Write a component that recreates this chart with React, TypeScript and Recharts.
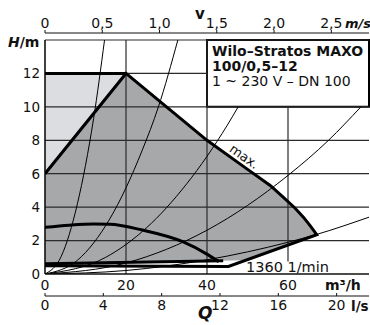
import {
  Area,
  ComposedChart,
  Line,
  ReferenceArea,
  ReferenceLine,
  XAxis,
  YAxis,
} from "recharts";

const FONT = "'DejaVu Sans', sans-serif";
const INK = "#111";

// axes: Q in m³/h, H in m
const flowTicks = [0, 20, 40, 60];
const headTicks = [0, 2, 4, 6, 8, 10, 12];
const speedTicks = [0, 0.5, 1, 1.5, 2, 2.5];
const litreTicks = [0, 4, 8, 12, 16, 20];

// dark operating range
const bandQ = [0, 20, 30, 40, 49.5, 55.6, 58.8, 61.7, 63.8, 65.6, 67.1];
const bandTop = [6, 12, 10, 8.0, 6.35, 5.3, 4.6, 3.95, 3.4, 2.85, 2.35];
const bandBottom = [0.62, 0.7, 0.74, 0.78, 0.83, 1.36, 1.64, 1.9, 2.08, 2.24, 2.35];

// light corner top-left
const wedgeQ = [0, 20];
const wedgeLow = [6, 12];
const wedgeHigh = [12, 12];

// thick outline: max curve + lower limit
const outlineQ = [0, 20, 30, 40, 49.5, 55.6, 58.8, 61.7, 63.8, 65.6, 67.1, 45.3, 0];
const outlineH = [6, 12, 10, 8.0, 6.35, 5.3, 4.6, 3.95, 3.4, 2.85, 2.35, 0.45, 0.5];
const capQ = [0, 20];
const capH = [12, 12];
const minQ = [0, 44];
const minH = [0.62, 0.8];
const midQ = [0, 6, 12, 16, 24, 34, 40.4, 42.9];
const midH = [2.79, 2.92, 2.99, 2.98, 2.63, 1.93, 1.13, 0.74];

// system curves (thin)
const sys1Q = [0, 4, 8, 10, 12, 14.7];
const sys1H = [0, 1.05, 4.2, 6.5, 9.3, 14];
const sys2Q = [0, 8, 16, 24, 28, 32.8];
const sys2H = [0, 0.82, 3.3, 7.4, 10, 14];
const sys3Q = [0, 15, 25, 35, 45, 47.7];
const sys3H = [0, 1.0, 2.75, 5.4, 8.9, 10];
const sys4Q = [0, 20, 40, 60, 70, 78];
const sys4H = [0, 0.66, 2.62, 5.9, 8.0, 10];
const sys5Q = [0, 20, 40, 60, 67.1, 80];
const sys5H = [0, 0.21, 0.85, 1.9, 2.37, 3.4];

const pts = (qs: number[], hs: number[]) => qs.map((q, i) => ({ q, h: hs[i] }));
const band = bandQ.map((q, i) => ({ q, r: [bandBottom[i], bandTop[i]] }));
const wedge = wedgeQ.map((q, i) => ({ q, r: [wedgeLow[i], wedgeHigh[i]] }));
const systems = [
  pts(sys1Q, sys1H),
  pts(sys2Q, sys2H),
  pts(sys3Q, sys3H),
  pts(sys4Q, sys4H),
  pts(sys5Q, sys5H),
];
// anchors so the secondary axes get drawn
const speedAnchor = speedTicks.map((v) => ({ v, h: 0 }));
const litreAnchor = litreTicks.map((l) => ({ l, h: 0 }));

const comma = (v: number) => (v === 0 ? "0" : v.toFixed(1).replace(".", ","));

function TitleBox(props: any) {
  const { x, y } = props.viewBox;
  return (
    <g fontFamily={FONT} fill={INK}>
      <text x={x + 5} y={y + 16} fontSize={14} fontWeight="bold">
        Wilo–Stratos MAXO
      </text>
      <text x={x + 5} y={y + 30.5} fontSize={14} fontWeight="bold">
        100/0,5–12
      </text>
      <text x={x + 5} y={y + 46} fontSize={14}>
        1 ~ 230 V – DN 100
      </text>
    </g>
  );
}

const grid = "#2a2a2a";

export default function App() {
  return (
    <div style={{ position: "absolute", left: 0, top: 0, background: "#fff" }}>
      <ComposedChart width={370} height={325} margin={{ top: 0, right: 1, bottom: 0, left: 5 }}>
        <XAxis
          xAxisId="v"
          dataKey="v"
          orientation="top"
          type="number"
          domain={[0, 2.829]}
          allowDataOverflow
          ticks={speedTicks}
          tickFormatter={comma}
          height={33}
          tickSize={3}
          tickMargin={2}
          stroke={INK}
          tick={{ fontSize: 14, fill: INK, fontFamily: FONT }}
        />
        <XAxis
          dataKey="q"
          type="number"
          domain={[0, 80]}
          allowDataOverflow
          ticks={flowTicks}
          height={22}
          tickLine={false}
          tickSize={2}
          tickMargin={4}
          stroke={INK}
          strokeWidth={1.5}
          tick={{ fontSize: 14, fill: INK, fontFamily: FONT }}
        />
        <XAxis
          xAxisId="ls"
          dataKey="l"
          type="number"
          domain={[0, 22.22]}
          allowDataOverflow
          ticks={litreTicks}
          height={29}
          tickSize={-3}
          tickMargin={7}
          stroke={INK}
          tick={{ fontSize: 14, fill: INK, fontFamily: FONT }}
        />
        <YAxis
          type="number"
          domain={[0, 14.42]}
          allowDataOverflow
          ticks={headTicks}
          width={40}
          axisLine={false}
          tickLine={false}
          tickSize={2}
          tickMargin={3}
          tick={{ fontSize: 13.5, fill: INK, fontFamily: FONT }}
        />

        <Area data={wedge} dataKey="r" type="linear" fill="#dcdde0" fillOpacity={1} stroke="none" isAnimationActive={false} />
        <Area data={band} dataKey="r" type="linear" fill="#a6a8aa" fillOpacity={1} stroke="none" isAnimationActive={false} />

        {[2, 4, 6, 8, 10, 14].map((y) => (
          <ReferenceLine key={`h${y}`} segment={[{ x: 0, y }, { x: 80, y }]} stroke={grid} strokeWidth={1.2} />
        ))}
        <ReferenceLine segment={[{ x: 0, y: 12 }, { x: 40, y: 12 }]} stroke={grid} strokeWidth={1.2} />
        <ReferenceLine segment={[{ x: 20, y: 0 }, { x: 20, y: 14 }]} stroke={grid} strokeWidth={1.2} />
        <ReferenceLine segment={[{ x: 40, y: 0 }, { x: 40, y: 14 }]} stroke={grid} strokeWidth={1.2} />
        <ReferenceLine segment={[{ x: 60, y: 0.75 }, { x: 60, y: 10 }]} stroke={grid} strokeWidth={1.2} />
        <ReferenceLine segment={[{ x: 0, y: 0 }, { x: 0, y: 14 }]} stroke={INK} strokeWidth={1.6} />

        <ReferenceArea
          x1={40}
          x2={80}
          y1={10}
          y2={14}
          fill="#fff"
          fillOpacity={1}
          stroke="#000"
          strokeWidth={2}
          label={TitleBox}
        />

        <Line xAxisId="v" data={speedAnchor} dataKey="h" stroke="none" dot={false} activeDot={false} isAnimationActive={false} />
        <Line xAxisId="ls" data={litreAnchor} dataKey="h" stroke="none" dot={false} activeDot={false} isAnimationActive={false} />

        {systems.map((d, i) => (
          <Line key={i} data={d} dataKey="h" type="monotone" stroke="#000" strokeWidth={1} dot={false} isAnimationActive={false} />
        ))}
        <Line data={pts(outlineQ, outlineH)} dataKey="h" type="linear" stroke="#000" strokeWidth={3} dot={false} isAnimationActive={false} />
        <Line data={pts(capQ, capH)} dataKey="h" type="linear" stroke="#000" strokeWidth={3} dot={false} isAnimationActive={false} />
        <Line data={pts(minQ, minH)} dataKey="h" type="linear" stroke="#000" strokeWidth={3} dot={false} isAnimationActive={false} />
        <Line data={pts(midQ, midH)} dataKey="h" type="monotone" stroke="#000" strokeWidth={3} dot={false} isAnimationActive={false} />

        <text x={244} y={161} transform="rotate(35 244 157)" textAnchor="middle" fontSize={13} fontFamily={FONT} fill={INK}>
          max.
        </text>
        <text x={246} y={272} fontSize={14.5} fontFamily={FONT} fill={INK}>
          1360 1/min
        </text>
        <text x={8} y={47} fontSize={14} fontWeight="bold" fontFamily={FONT} fill={INK}>
          <tspan fontStyle="italic">H</tspan>/m
        </text>
        <text x={200} y={19} fontSize={15} fontWeight="bold" textAnchor="middle" fontFamily={FONT} fill={INK}>
          v
        </text>
        <text x={345} y={28} fontSize={13} fontWeight="bold" fontStyle="italic" fontFamily={FONT} fill={INK}>
          m/s
        </text>
        <text x={325} y={290} fontSize={14} fontWeight="bold" fontFamily={FONT} fill={INK}>
          m³/h
        </text>
        <text x={351} y={311} fontSize={13.5} fontWeight="bold" fontFamily={FONT} fill={INK}>
          l/s
        </text>
        <text x={198} y={319} fontSize={17} fontWeight="bold" fontStyle="italic" fontFamily={FONT} fill={INK}>
          Q
        </text>
      </ComposedChart>
    </div>
  );
}
